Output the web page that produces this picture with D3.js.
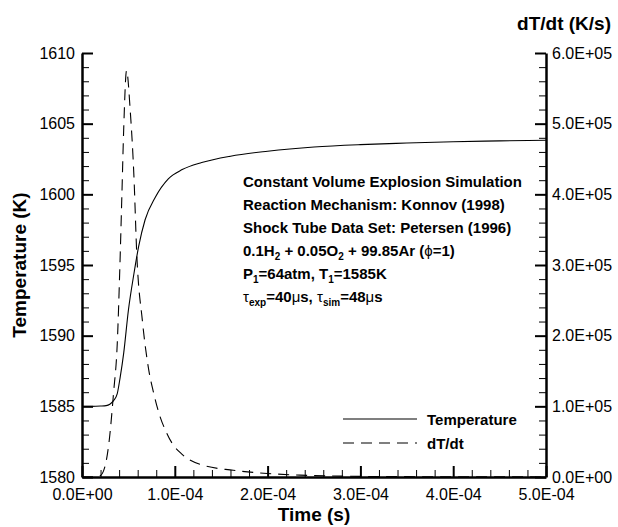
<!DOCTYPE html>
<html>
<head>
<meta charset="utf-8">
<script src="https://cdn.jsdelivr.net/npm/d3@7"></script>
<style>
  body { margin: 0; background: #fff; }
  svg { display: block; font-family: "Liberation Sans", Arial, sans-serif; }
  .axis text { font-size: 16px; fill: #000; }
</style>
</head>
<body>
<div id="chart"></div>
<script>
var w = 618;
var h = 527;

// Temperature series (K) vs time (s)
var timeT = [0, 1.0e-5, 2.0e-5, 2.6e-5, 3.0e-5, 3.4e-5, 3.8e-5, 4.1e-5, 4.5e-5, 5.0e-5,
             5.6e-5, 6.1e-5, 6.8e-5, 7.9e-5, 9.3e-5, 1.08e-4, 1.29e-4, 1.6e-4, 2.0e-4,
             2.5e-4, 3.0e-4, 3.5e-4, 4.0e-4, 4.5e-4, 5.0e-4];
var temp  = [1585.0, 1585.0, 1585.02, 1585.05, 1585.15, 1585.4, 1585.9, 1587.0, 1588.8, 1591.8,
             1594.4, 1596.3, 1598.2, 1599.8, 1601.1, 1601.75, 1602.25, 1602.7, 1603.05,
             1603.35, 1603.52, 1603.63, 1603.72, 1603.78, 1603.83];

// dT/dt series (K/s) vs time (s)
var timeR = [0, 1.5e-5, 2.0e-5, 2.3e-5, 2.6e-5, 2.9e-5, 3.4e-5, 3.8e-5, 4.1e-5, 4.3e-5,
             4.5e-5, 4.8e-5, 5.2e-5, 5.6e-5, 5.9e-5, 6.5e-5, 7.2e-5, 7.7e-5, 8.3e-5, 9.1e-5,
             9.7e-5, 1.07e-4, 1.27e-4, 1.63e-4, 2.0e-4, 2.35e-4, 2.8e-4, 3.5e-4, 4.2e-4, 5.0e-4];
var rate  = [0, 0, 2e3, 8e3, 2.2e4, 4.8e4, 1.19e5, 1.89e5, 3.06e5, 4.0e5,
             4.95e5, 5.75e5, 5.18e5, 4.24e5, 3.16e5, 2.22e5, 1.51e5, 1.2e5, 9.0e4, 6.3e4,
             4.8e4, 3.3e4, 1.8e4, 9.5e3, 5e3, 2.6e3, 1.2e3, 5e2, 2e2, 1e2];

// tick values
var xTicks = [0, 1e-4, 2e-4, 3e-4, 4e-4, 5e-4];
var yLeftTicks = [1580, 1585, 1590, 1595, 1600, 1605, 1610];
var yRightTicks = [0, 1e5, 2e5, 3e5, 4e5, 5e5, 6e5];

var seriesNames = ["Temperature", "dT/dt"];

var svg = d3.select("#chart")
        .append("svg")
        .attr("width", w)
        .attr("height", h);

svg.append("rect").attr("width", w).attr("height", h).attr("fill", "#fff");

var x = d3.scaleLinear().domain([0, 5e-4]).range([82, 546]);
var yL = d3.scaleLinear().domain([1580, 1610]).range([477, 53]);
var yR = d3.scaleLinear().domain([0, 6e5]).range([477, 53]);

// scientific label like 1.0E-04
function sci(d) {
    if (d === 0) return "0.0E+00";
    var e = Math.floor(Math.log10(Math.abs(d)) + 1e-9);
    var m = d / Math.pow(10, e);
    var ae = Math.abs(e);
    return m.toFixed(1) + "E" + (e < 0 ? "-" : "+") + (ae < 10 ? "0" : "") + ae;
}

// minor ticks between majors
function minors(ticks, n) {
    var out = [];
    for (var i = 0; i < ticks.length - 1; i++) {
        var step = (ticks[i + 1] - ticks[i]) / n;
        for (var k = 1; k < n; k++) out.push(ticks[i] + k * step);
    }
    return out;
}

// curves
var lineT = d3.line()
    .x(function(d, i) { return x(timeT[i]); })
    .y(function(d) { return yL(d); })
    .curve(d3.curveMonotoneX);

var lineR = d3.line()
    .x(function(d, i) { return x(timeR[i]); })
    .y(function(d) { return yR(d); })
    .curve(d3.curveMonotoneX);

svg.append("path")
    .attr("d", lineR(rate))
    .attr("fill", "none")
    .attr("stroke", "#000")
    .attr("stroke-width", 1.1)
    .attr("stroke-dasharray", "11,7");

svg.append("path")
    .attr("d", lineT(temp))
    .attr("fill", "none")
    .attr("stroke", "#000")
    .attr("stroke-width", 1.1);

// minor ticks
svg.append("g").attr("class", "axis")
    .attr("transform", "translate(0,477)")
    .call(d3.axisBottom(x).tickValues(minors(xTicks, 5)).tickSize(-7).tickFormat(""))
    .call(function(g) { g.select(".domain").remove(); g.selectAll("line").attr("stroke-width", 1); });

svg.append("g").attr("class", "axis")
    .attr("transform", "translate(82,0)")
    .call(d3.axisLeft(yL).tickValues(minors(yLeftTicks, 5)).tickSize(-7).tickFormat(""))
    .call(function(g) { g.select(".domain").remove(); g.selectAll("line").attr("stroke-width", 1); });

svg.append("g").attr("class", "axis")
    .attr("transform", "translate(546,0)")
    .call(d3.axisRight(yR).tickValues(minors(yRightTicks, 5)).tickSize(-7).tickFormat(""))
    .call(function(g) { g.select(".domain").remove(); g.selectAll("line").attr("stroke-width", 1); });

// major axes
var xAxis = svg.append("g").attr("class", "axis")
    .attr("transform", "translate(0,477)")
    .call(d3.axisBottom(x).tickValues(xTicks).tickSize(-11).tickSizeOuter(0).tickPadding(12).tickFormat(sci));

var yAxisL = svg.append("g").attr("class", "axis")
    .attr("transform", "translate(82,0)")
    .call(d3.axisLeft(yL).tickValues(yLeftTicks).tickSize(-11).tickSizeOuter(0).tickPadding(7).tickFormat(d3.format("d")));

var yAxisR = svg.append("g").attr("class", "axis")
    .attr("transform", "translate(546,0)")
    .call(d3.axisRight(yR).tickValues(yRightTicks).tickSize(-11).tickSizeOuter(0).tickPadding(6).tickFormat(sci));

[xAxis, yAxisL, yAxisR].forEach(function(g) {
    g.select(".domain").attr("stroke-width", 2.5).attr("stroke", "#000");
    g.selectAll(".tick line").attr("stroke-width", 2).attr("stroke", "#000");
    g.attr("font-family", null).attr("font-size", null);
});

// axis titles
svg.append("text")
    .attr("x", 314).attr("y", 521)
    .attr("text-anchor", "middle")
    .attr("font-weight", "bold").attr("font-size", 19)
    .text("Time (s)");

svg.append("text")
    .attr("transform", "translate(26,265) rotate(-90)")
    .attr("text-anchor", "middle")
    .attr("font-weight", "bold").attr("font-size", 19)
    .text("Temperature (K)");

svg.append("text")
    .attr("x", 611).attr("y", 30)
    .attr("text-anchor", "end")
    .attr("font-weight", "bold").attr("font-size", 19)
    .text("dT/dt (K/s)");

// annotation block
var notes = [
    [["Constant Volume Explosion Simulation", "n"]],
    [["Reaction Mechanism: Konnov (1998)", "n"]],
    [["Shock Tube Data Set: Petersen (1996)", "n"]],
    [["0.1H", "n"], ["2", "s"], [" + 0.05O", "n"], ["2", "s"], [" + 99.85Ar (", "n"], ["\u03D5", "g"], ["=1)", "n"]],
    [["P", "n"], ["1", "s"], ["=64atm, T", "n"], ["1", "s"], ["=1585K", "n"]],
    [["\u03C4", "g"], ["exp", "s"], ["=40", "n"], ["\u03BC", "g"], ["s, ", "n"], ["\u03C4", "g"], ["sim", "s"], ["=48", "n"], ["\u03BC", "g"], ["s", "n"]]
];

var note = svg.append("g")
    .attr("font-weight", "bold").attr("font-size", 15);

notes.forEach(function(parts, li) {
    var t = note.append("text").attr("x", 243).attr("y", 187 + li * 23);
    var shift = 0;
    parts.forEach(function(p) {
        var ts = t.append("tspan").text(p[0]);
        var target = p[1] === "s" ? 4 : 0;
        if (target !== shift) { ts.attr("dy", target - shift); shift = target; }
        if (p[1] === "s") ts.attr("font-size", 10);
        if (p[1] === "g") ts.attr("font-weight", "normal");
    });
});

// legend
var legend = svg.append("g");
var dashes = [null, "11,7"];
seriesNames.forEach(function(name, i) {
    var yy = 419 + i * 24;
    legend.append("line")
        .attr("x1", 343).attr("x2", 417)
        .attr("y1", yy).attr("y2", yy)
        .attr("stroke", "#000").attr("stroke-width", 1.1)
        .attr("stroke-dasharray", dashes[i]);
    legend.append("text")
        .attr("x", 427).attr("y", yy + 6)
        .attr("font-weight", "bold").attr("font-size", 15)
        .text(name);
});
</script>
</body>
</html>
